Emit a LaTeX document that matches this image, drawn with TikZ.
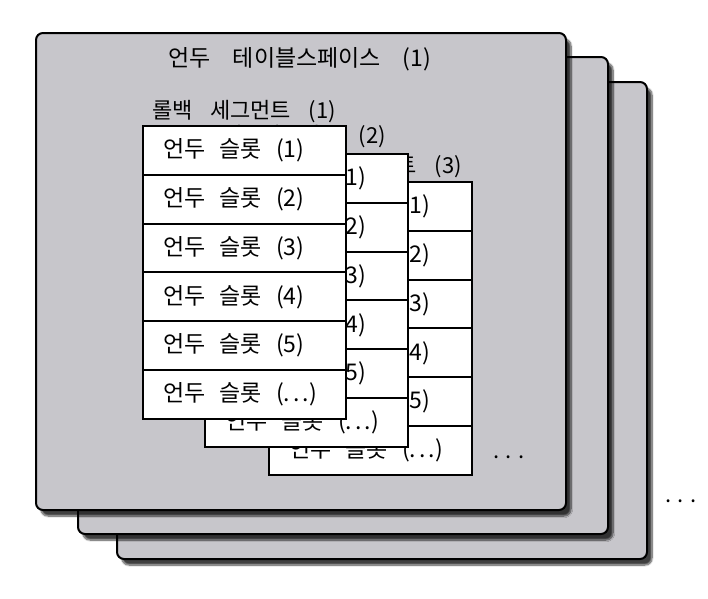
\documentclass[tikz,border=0pt]{standalone}
\usepackage{fontspec}
\newfontfamily\kofont{Noto Sans CJK KR}
\usetikzlibrary{positioning}
\usetikzlibrary{shadows.blur}

\definecolor{panelgray}{RGB}{199,198,203}

% korean text at a given size, with wider word spaces
\newcommand{\kosize}[2]{\kofont\fontsize{#1}{#1}\selectfont\spaceskip #2em\relax}
% three spread dots
\newcommand{\spreaddots}[1]{.\kern#1.\kern#1.}
% one undo slot line, left aligned in its box
\newcommand{\slotline}[1]{\makebox[163pt][l]{언두 슬롯 (#1)}}

\tikzset{
  panel/.style={draw=black, line width=2pt, fill=panelgray, rounded corners=7pt,
    minimum width=530pt, minimum height=477pt, anchor=north west, inner sep=0pt, outer sep=0pt,
    blur shadow={shadow xshift=5pt, shadow yshift=-6pt, shadow blur steps=10, shadow opacity=75}},
  slot/.style={draw=black, line width=2pt, fill=white, outer sep=0pt,
    inner xsep=20pt, inner ysep=0pt, minimum height=48.8pt, font=\kosize{23}{0.62}},
  seglabel/.style={anchor=south east, inner sep=0pt, font=\kosize{22}{0.8}},
  dots/.style={inner sep=0pt, font=\kosize{22}{0.45}},
}

\begin{document}
\begin{tikzpicture}[x=1pt, y=-1pt]

\useasboundingbox (0,0) rectangle (708,598);

%% Tablespaces %%
\node[panel] (space3) at (117,82) {};
\node[panel] (space2) at (78,57) {};
\node[panel] (space1) at (36,33) {};

\node[font=\kosize{23}{0.95}] (title1) at (300,59) {언두 테이블스페이스 (1)};

%% Rollback segments %%
% segment 3 %
\node[slot, anchor=north west] (seg3slot1) at (269,182) {\slotline{1}};
\node[slot, below=0pt of seg3slot1] (seg3slot2) {\slotline{2}};
\node[slot, below=0pt of seg3slot2] (seg3slot3) {\slotline{3}};
\node[slot, below=0pt of seg3slot3] (seg3slot4) {\slotline{4}};
\node[slot, below=0pt of seg3slot4] (seg3slot5) {\slotline{5}};
\node[slot, below=0pt of seg3slot5] (seg3slot6) {\slotline{\spreaddots{3pt}}};
\node[seglabel] (seg3label) at ([xshift=-10pt, yshift=4pt]seg3slot1.north east) {롤백 세그먼트 (3)};

% segment 2 %
\node[slot, anchor=north west] (seg2slot1) at (205,154) {\slotline{1}};
\node[slot, below=0pt of seg2slot1] (seg2slot2) {\slotline{2}};
\node[slot, below=0pt of seg2slot2] (seg2slot3) {\slotline{3}};
\node[slot, below=0pt of seg2slot3] (seg2slot4) {\slotline{4}};
\node[slot, below=0pt of seg2slot4] (seg2slot5) {\slotline{5}};
\node[slot, below=0pt of seg2slot5] (seg2slot6) {\slotline{\spreaddots{3pt}}};
\node[seglabel] (seg2label) at ([xshift=-22pt, yshift=6pt]seg2slot1.north east) {롤백 세그먼트 (2)};

% segment 1 %
\node[slot, anchor=north west] (seg1slot1) at (143,126) {\slotline{1}};
\node[slot, below=0pt of seg1slot1] (seg1slot2) {\slotline{2}};
\node[slot, below=0pt of seg1slot2] (seg1slot3) {\slotline{3}};
\node[slot, below=0pt of seg1slot3] (seg1slot4) {\slotline{4}};
\node[slot, below=0pt of seg1slot4] (seg1slot5) {\slotline{5}};
\node[slot, below=0pt of seg1slot5] (seg1slot6) {\slotline{\spreaddots{3pt}}};
\node[seglabel] (seg1label) at ([xshift=-10pt, yshift=3pt]seg1slot1.north east) {롤백 세그먼트 (1)};

%% More %%
\node[dots] (moresegs) at (509,457) {\spreaddots{6pt}};
\node[dots] (morespaces) at (681,501) {\spreaddots{6pt}};

\end{tikzpicture}
\end{document}
